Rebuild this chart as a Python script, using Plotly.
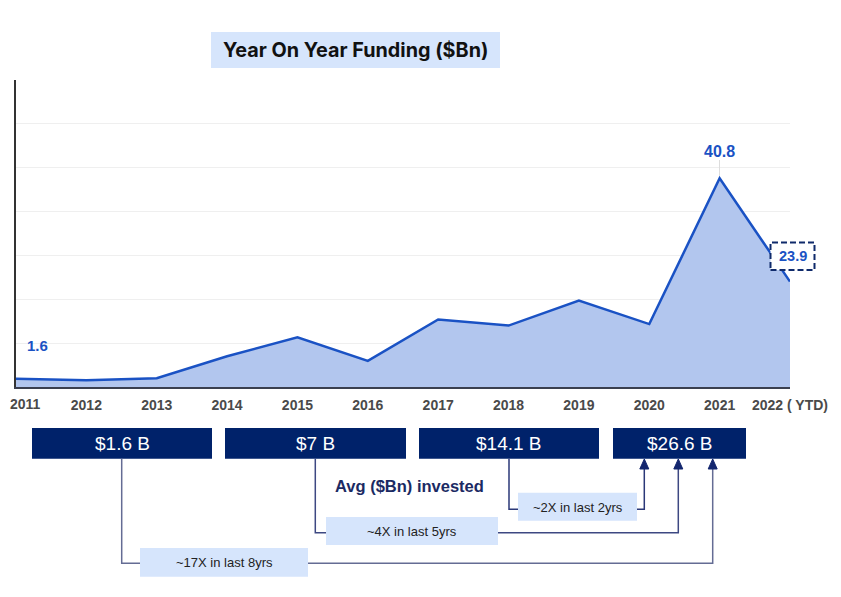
import plotly.graph_objects as go

years = [2011, 2012, 2013, 2014, 2015, 2016, 2017, 2018, 2019, 2020, 2021, 2022]
year_labels = ["2011", "2012", "2013", "2014", "2015", "2016", "2017", "2018",
               "2019", "2020", "2021", "2022 ( YTD)"]
funding = [1.6, 1.3, 1.7, 6.0, 9.7, 5.1, 13.2, 12.0, 16.9, 12.3, 40.8, 20.6]
label_first = "1.6"
label_peak = "40.8"
label_ytd = "23.9"
avg_labels = ["$1.6 B", "$7 B", "$14.1 B", "$26.6 B"]
growth_labels = ["~2X in last 2yrs", "~4X in last 5yrs", "~17X in last 8yrs"]
title_text = "Year On Year Funding ($Bn)"
avg_title = "Avg ($Bn) invested"

# The page body adds an 8px margin; all positions below are screen pixels.
OFF = 8
W, H = 825, 581
L, R, T, B = 16, 790, 80, 387          # plot area on screen
PW, PH = R - L, B - T


def px(x):
    return (x - L) / PW


def py(y):
    return (B - y) / PH


NAVY = "#00226A"
LIGHT = "#D6E5FC"
BLUE = "#1A52C4"
FONT = "Arial"
TICK_COLOR = "#4A4A4A"

fig = go.Figure()
fig.add_trace(go.Scatter(
    x=years, y=funding, mode="lines",
    line=dict(color=BLUE, width=2.5),
    fill="tozeroy", fillcolor="#B2C6EE",
    hoverinfo="skip", showlegend=False,
))

shapes = []
annotations = []


def rect(x0, y0, x1, y1, fill, line=None, dash=None, lw=0):
    d = dict(type="rect", xref="paper", yref="paper",
             x0=px(x0), x1=px(x1), y0=py(y1), y1=py(y0),
             fillcolor=fill, layer="above",
             line=dict(width=lw, color=line or fill))
    if dash:
        d["line"]["dash"] = dash
    shapes.append(d)


def text(x, y, s, size, color, bold=False, family=FONT, xanchor="center"):
    annotations.append(dict(
        xref="paper", yref="paper", x=px(x), y=py(y), text=(f"<b>{s}</b>" if bold else s),
        showarrow=False, xanchor=xanchor, yanchor="middle",
        font=dict(family=family, size=size, color=color)))


def seg(pts, color, width=1.5):
    path = "M " + " L ".join(f"{px(x)},{py(y)}" for x, y in pts)
    shapes.append(dict(type="path", xref="paper", yref="paper", path=path,
                       line=dict(color=color, width=width), layer="above"))


def arrowhead(x, tip, color):
    path = (f"M {px(x-4.5)},{py(tip+10)} L {px(x+4.5)},{py(tip+10)} "
            f"L {px(x)},{py(tip)} Z")
    shapes.append(dict(type="path", xref="paper", yref="paper", path=path,
                       fillcolor=color, line=dict(color=color, width=1), layer="above"))


# Title box
rect(211, 32, 500, 68, LIGHT)
text(355.5, 50, title_text, 19.8, "#111111", bold=True, family="Inter")

# First year label kept fully visible at the left page edge
text(8, 404, year_labels[0], 14, TICK_COLOR, bold=True, xanchor="left")

# Data labels
annotations.append(dict(x=years[0], y=funding[0], xref="x", yref="y", text=f"<b>{label_first}</b>",
                        showarrow=False, xshift=21, yshift=33,
                        font=dict(family=FONT, size=15, color=BLUE)))
annotations.append(dict(x=years[10], y=funding[10], xref="x", yref="y", text=f"<b>{label_peak}</b>",
                        showarrow=False, yshift=27,
                        font=dict(family=FONT, size=16, color=BLUE)))
seg([(719.5, 160), (719.5, 176)], "#dddddd", 1)
rect(770.5, 242.5, 814.5, 270, "white", line="#0F2A6B", dash="6px,3px", lw=2)
text(793, 256, label_ytd, 14.5, BLUE, bold=True)

# Avg boxes
boxes = [(32, 212), (225, 406), (419, 599), (613, 746)]
for (x0, x1), lab in zip(boxes, avg_labels):
    rect(x0, 428, x1, 458.7, NAVY)
    text((x0 + x1) / 2, 443.5, lab, 19, "white")

text(409.5, 485.5, avg_title, 16.5, "#1B2A63", bold=True)

# Connectors
c2, c5, c8 = "#2B3878", "#3D4882", "#646C94"
seg([(509, 458.7), (509, 509.3), (518, 509.3)], c2)
seg([(637, 509.3), (644.3, 509.3), (644.3, 468)], c2)
arrowhead(644.3, 459, "#13266E")
seg([(315.3, 458.7), (315.3, 532.7), (326, 532.7)], c5)
seg([(498, 532.7), (678.3, 532.7), (678.3, 468)], c5)
arrowhead(678.3, 459, "#13266E")
seg([(121.7, 458.7), (121.7, 563.3), (140, 563.3)], c8)
seg([(308, 563.3), (712.7, 563.3), (712.7, 468)], c8)
arrowhead(712.7, 459, "#13266E")

# Growth boxes
gb = [(518, 492.7, 637, 520.7), (326, 517, 498, 545), (140, 548, 308, 576.7)]
for (x0, y0, x1, y1), lab in zip(gb, growth_labels):
    rect(x0, y0, x1, y1, LIGHT)
    text((x0 + x1) / 2, (y0 + y1) / 2 + 0.5, lab, 13, "#222222")

fig.update_layout(
    width=W, height=H,
    margin=dict(l=L - OFF, r=W - (R - OFF), t=T - OFF, b=H - (B - OFF), pad=0, autoexpand=False),
    paper_bgcolor="white", plot_bgcolor="white",
    shapes=shapes, annotations=annotations,
    showlegend=False,
    xaxis=dict(range=[2011, 2022], tickmode="array", tickvals=years,
               ticktext=[""] + [f"<b>{t}</b>" for t in year_labels[1:]],
               tickfont=dict(family=FONT, size=14, color=TICK_COLOR),
               ticklabeloverflow="allow",
               showgrid=False, zeroline=False, showline=True, automargin=False,
               linecolor="#3A3F4F", linewidth=1.5, ticks="", ticklabelstandoff=4,
               fixedrange=True),
    yaxis=dict(range=[0, 60], tick0=0, dtick=60 / 7, showticklabels=False,
               showgrid=True, gridcolor="#EFEFEF", gridwidth=1, zeroline=False,
               showline=True, linecolor="#333333", linewidth=2, ticks="",
               automargin=False, fixedrange=True),
)

fig.write_html("out.html")
